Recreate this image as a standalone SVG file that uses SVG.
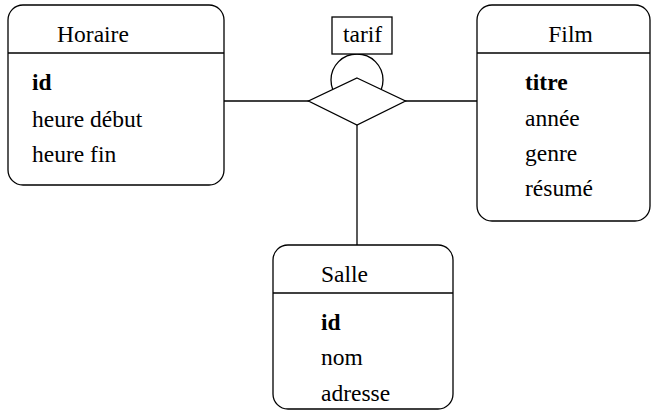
<svg xmlns="http://www.w3.org/2000/svg" width="651" height="413" viewBox="0 0 651 413">
<style>
.box{fill:#fff;stroke:#000;stroke-width:1.3}
.ln{fill:none;stroke:#000;stroke-width:1.3}
text{font-family:"Liberation Serif","Times New Roman",serif;font-size:23.5px;fill:#000}
.b{font-weight:bold}
</style>
<rect width="651" height="413" fill="#fff"/>
<g id="connectors">
<line class="ln" x1="224" y1="101" x2="309" y2="101"/>
<line class="ln" x1="405" y1="101" x2="477" y2="101"/>
<line class="ln" x1="357" y1="125" x2="357" y2="245"/>
<circle class="ln" cx="357" cy="80" r="26"/>
</g>
<g id="relation">
<polygon class="box" points="357,78 405.5,101 357,125 308.5,101"/>
</g>
<g id="tarif">
<rect class="box" x="332" y="17" width="60" height="37"/>
<text x="362.5" y="42" text-anchor="middle">tarif</text>
</g>
<g id="horaire">
<rect class="box" x="8" y="5" width="216" height="180" rx="15"/>
<line class="ln" x1="8" y1="53" x2="224" y2="53"/>
<text x="93" y="42" text-anchor="middle">Horaire</text>
<text x="32" y="90" class="b">id</text>
<text x="32" y="127">heure début</text>
<text x="32" y="162">heure fin</text>
</g>
<g id="film">
<rect class="box" x="477" y="5" width="173" height="216" rx="15"/>
<line class="ln" x1="477" y1="53" x2="650" y2="53"/>
<text x="570.5" y="42" text-anchor="middle">Film</text>
<text x="525" y="90" class="b">titre</text>
<text x="525" y="126">année</text>
<text x="525" y="161">genre</text>
<text x="525" y="196">résumé</text>
</g>
<g id="salle">
<rect class="box" x="273" y="245" width="180" height="164" rx="15"/>
<line class="ln" x1="273" y1="293" x2="453" y2="293"/>
<text x="344.5" y="282" text-anchor="middle">Salle</text>
<text x="321" y="330" class="b">id</text>
<text x="321" y="365">nom</text>
<text x="321" y="401">adresse</text>
</g>
</svg>
